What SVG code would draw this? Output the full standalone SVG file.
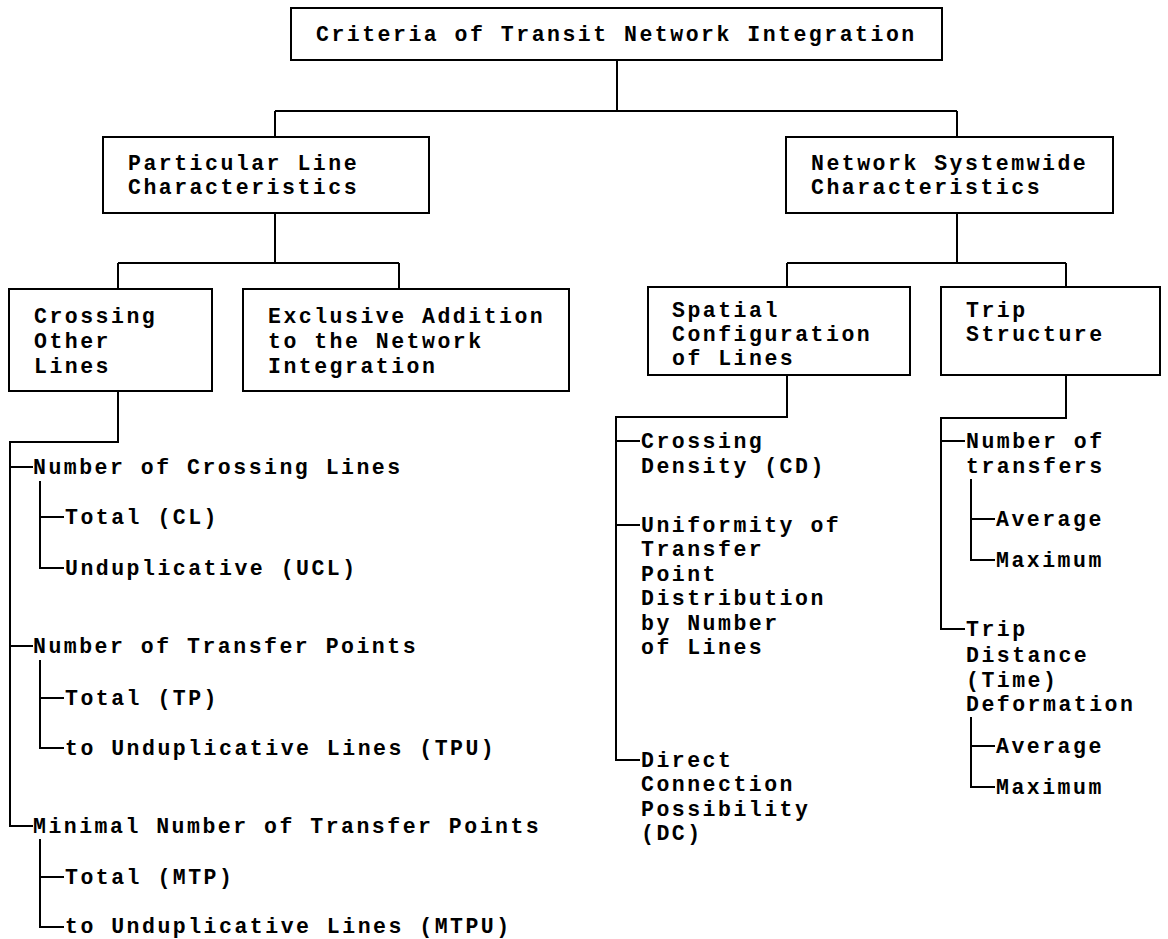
<svg xmlns="http://www.w3.org/2000/svg" width="1168" height="939" viewBox="0 0 1168 939">
<style>
text{font-family:"Liberation Mono","Courier New",monospace;font-weight:bold;font-size:21.5px;letter-spacing:2.5px;fill:#000}
.box{fill:#fff;stroke:#000;stroke-width:2}
.con{fill:none;stroke:#000;stroke-width:2}
</style>
<rect width="1168" height="939" fill="#fff"/>
<g id="connectors" class="con">
<path d="M617 60V111M275 111H957M275 111V137M957 111V137"/>
<path d="M275 213V263M118 263H399M118 263V289M399 263V289"/>
<path d="M957 213V263M787 263H1066M787 263V287M1066 263V287"/>
<path d="M118 391V442H10V826H33M10 467H33M10 646H33"/>
<path d="M40 481V568H64M40 517H64"/>
<path d="M40 660V748H64M40 698H64"/>
<path d="M40 839V927H64M40 877H64"/>
<path d="M787 375V417H616V760H640M616 441H640M616 525H640"/>
<path d="M1066 375V418H941V629H965M941 441H965"/>
<path d="M971 479V560H995M971 519H995"/>
<path d="M971 717V787H995M971 746H995"/>
</g>
<g id="root"><rect class="box" x="291" y="8" width="651" height="52"/><text x="316" y="41">Criteria of Transit Network Integration</text></g>
<g id="particular"><rect class="box" x="103" y="137" width="326" height="76"/><text x="128" y="170">Particular Line</text><text x="128" y="194">Characteristics</text></g>
<g id="network"><rect class="box" x="786" y="137" width="327" height="76"/><text x="811" y="170">Network Systemwide</text><text x="811" y="194">Characteristics</text></g>
<g id="crossing"><rect class="box" x="9" y="289" width="203" height="102"/><text x="34" y="323">Crossing</text><text x="34" y="348">Other</text><text x="34" y="373">Lines</text></g>
<g id="exclusive"><rect class="box" x="243" y="289" width="326" height="102"/><text x="268" y="323">Exclusive Addition</text><text x="268" y="348">to the Network</text><text x="268" y="373">Integration</text></g>
<g id="spatial"><rect class="box" x="648" y="287" width="262" height="88"/><text x="672" y="317">Spatial</text><text x="672" y="341">Configuration</text><text x="672" y="365">of Lines</text></g>
<g id="trip"><rect class="box" x="941" y="287" width="219" height="88"/><text x="966" y="317">Trip</text><text x="966" y="341">Structure</text></g>
<g id="ncl"><text x="33" y="474">Number of Crossing Lines</text></g>
<g id="cl"><text x="65" y="524">Total (CL)</text></g>
<g id="ucl"><text x="65" y="575">Unduplicative (UCL)</text></g>
<g id="ntp"><text x="33" y="653">Number of Transfer Points</text></g>
<g id="tp"><text x="65" y="705">Total (TP)</text></g>
<g id="tpu"><text x="65" y="755">to Unduplicative Lines (TPU)</text></g>
<g id="mntp"><text x="33" y="833">Minimal Number of Transfer Points</text></g>
<g id="mtp"><text x="65" y="884">Total (MTP)</text></g>
<g id="mtpu"><text x="65" y="933">to Unduplicative Lines (MTPU)</text></g>
<g id="cd"><text x="641" y="448">Crossing</text><text x="641" y="473">Density (CD)</text></g>
<g id="uniformity"><text x="641" y="532">Uniformity of</text><text x="641" y="556">Transfer</text><text x="641" y="581">Point</text><text x="641" y="605">Distribution</text><text x="641" y="630">by Number</text><text x="641" y="654">of Lines</text></g>
<g id="dc"><text x="641" y="767">Direct</text><text x="641" y="791">Connection</text><text x="641" y="816">Possibility</text><text x="641" y="840">(DC)</text></g>
<g id="transfers"><text x="966" y="448">Number of</text><text x="966" y="473">transfers</text></g>
<g id="avg1"><text x="996" y="526">Average</text></g>
<g id="max1"><text x="996" y="567">Maximum</text></g>
<g id="deformation"><text x="966" y="636">Trip</text><text x="966" y="662">Distance</text><text x="966" y="687">(Time)</text><text x="966" y="711">Deformation</text></g>
<g id="avg2"><text x="996" y="753">Average</text></g>
<g id="max2"><text x="996" y="794">Maximum</text></g>
</svg>
